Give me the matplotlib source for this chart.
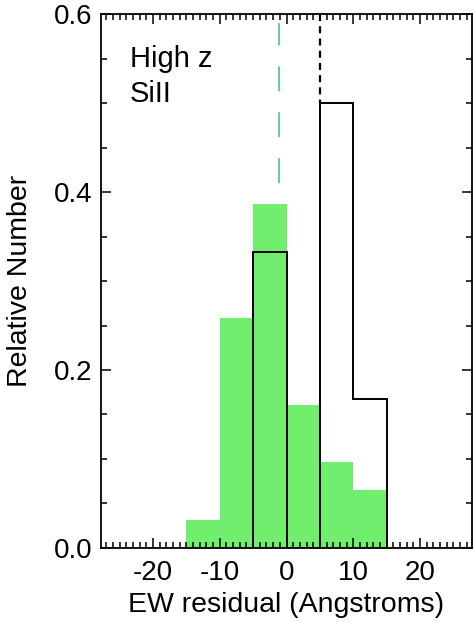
import numpy as np
import matplotlib
matplotlib.use("Agg")
import matplotlib.pyplot as plt
from matplotlib.ticker import MultipleLocator, FormatStrFormatter

# histogram data
green_edges = [-15, -10, -5, 0, 5, 10, 15]
green_frac = [0.032, 0.258, 0.387, 0.161, 0.097, 0.065]
black_edges = [-5, 0, 5, 10, 15]
black_frac = [0.333, 0.0, 0.5, 0.167]
green_median = -1.2
black_median = 5.0

plt.rcParams['font.family'] = ['Liberation Sans', 'DejaVu Sans']
plt.rcParams['axes.unicode_minus'] = False

fig = plt.figure(figsize=(4.73, 6.23), dpi=100)
ax = fig.add_axes([0.2135, 0.1204, 0.7845, 0.8571])

ax.stairs(green_frac, green_edges, fill=True, color='#72ee6e', linewidth=0)
ax.stairs(black_frac, black_edges, color='black', linewidth=1.4)

# median markers (dashes scale with linewidth)
ax.plot([green_median, green_median], [0.41, 0.59], color='#5cc98a',
        linewidth=1.3, dashes=(13.8, 11.6))
ax.plot([black_median, black_median], [0.6, 0.5], color='black',
        linewidth=1.6, dashes=(3.2, 2.3))

ax.set_xlim(-27.8, 27.8)
ax.set_ylim(0, 0.6)
ax.xaxis.set_major_locator(MultipleLocator(10))
ax.xaxis.set_minor_locator(MultipleLocator(1))
ax.yaxis.set_major_locator(MultipleLocator(0.2))
ax.yaxis.set_minor_locator(MultipleLocator(0.05))
ax.yaxis.set_major_formatter(FormatStrFormatter('%.1f'))

ax.tick_params(which='both', direction='in', top=True, right=True,
               width=1.1, labelsize=20)
ax.tick_params(which='major', length=7.5)
ax.tick_params(which='minor', length=4)
ax.tick_params(axis='x', pad=9)
ax.tick_params(axis='y', pad=6)
for s in ax.spines.values():
    s.set_linewidth(1.3)

ax.set_xlabel("EW residual (Angstroms)", fontsize=20.5)
ax.set_ylabel("Relative Number", fontsize=20.5)
ax.xaxis.set_label_coords(0.5, -0.082)
ax.yaxis.set_label_coords(-0.183, 0.5)

ax.text(0.078, 0.901, "High z", transform=ax.transAxes, fontsize=21,
        va='baseline')
ax.text(0.078, 0.835, "SiII", transform=ax.transAxes, fontsize=21,
        va='baseline')

fig.savefig("out.png", dpi=100)
